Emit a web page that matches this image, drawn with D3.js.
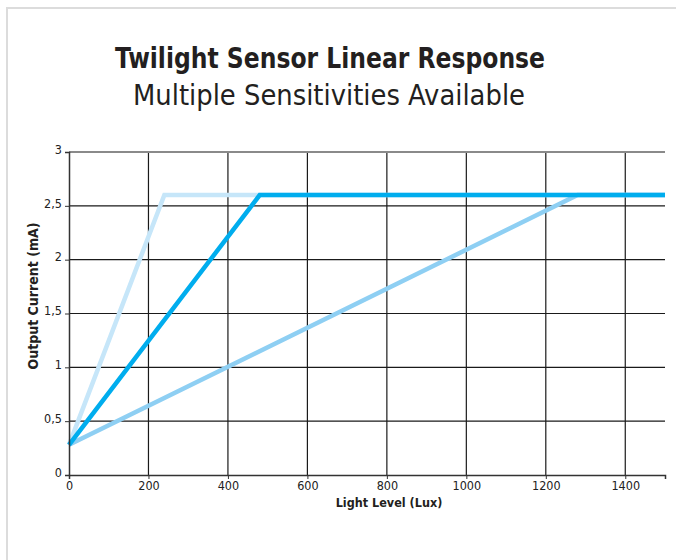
<!DOCTYPE html>
<html>
<head>
<meta charset="utf-8">
<script src="https://cdn.jsdelivr.net/npm/d3@7"></script>
<style>
	body { margin: 0; background: #fff; }
	svg { display: block; }
	text { font-family: "DejaVu Sans Condensed", "DejaVu Sans", sans-serif; font-stretch: condensed; }
	.tick text { font-size: 12.5px; fill: #222; }
</style>
</head>
<body>
<div id="chart"></div>
<script>
// x = light level (lux), y = output current (mA)
const xTicks = [0, 200, 400, 600, 800, 1000, 1200, 1400];
const yTicks = [0, 0.5, 1, 1.5, 2, 2.5, 3];

const lowLux = [0, 240, 1500];
const lowMa = [0.28, 2.6, 2.6];

const highLux = [0, 1280, 1500];
const highMa = [0.28, 2.6, 2.6];

const midLux = [0, 480, 1500];
const midMa = [0.28, 2.6, 2.6];

const series = [
	{ lux: lowLux, ma: lowMa, color: "#c6e6f9" },
	{ lux: highLux, ma: highMa, color: "#8ecff3" },
	{ lux: midLux, ma: midMa, color: "#00adee" }
];

const width = 676, height = 560;
const margin = { top: 152, right: 11, bottom: 85, left: 69 };

const svg = d3.select('#chart').append('svg')
	.attr('width', width)
	.attr('height', height);

// light frame
svg.append('path')
	.attr('d', `M7,${height} V8 H${width}`)
	.attr('fill', 'none')
	.attr('stroke', '#dcdcdc')
	.attr('stroke-width', 2);

// titles are squeezed to the width of the condensed face in the original
svg.append('text')
	.attr('x', 330)
	.attr('y', 68)
	.attr('text-anchor', 'middle')
	.attr('textLength', 430)
	.attr('lengthAdjust', 'spacingAndGlyphs')
	.style('font-weight', 'bold')
	.style('font-size', '29px')
	.attr('fill', '#231f20')
	.text("Twilight Sensor Linear Response");

svg.append('text')
	.attr('x', 329)
	.attr('y', 105)
	.attr('text-anchor', 'middle')
	.attr('textLength', 392)
	.attr('lengthAdjust', 'spacingAndGlyphs')
	.style('font-size', '29px')
	.attr('fill', '#231f20')
	.text("Multiple Sensitivities Available");

const x = d3.scaleLinear()
	.domain([0, 1500])
	.range([margin.left, width - margin.right]);

const y = d3.scaleLinear()
	.domain([0, 3])
	.range([height - margin.bottom, margin.top]);

const fmt = d => String(d).replace('.', ',');

// grid
const g = svg.append('g');

g.selectAll('line.vgrid')
	.data(xTicks.slice(1))
	.enter().append('line')
	.attr('class', 'vgrid')
	.attr('x1', d => x(d)).attr('x2', d => x(d))
	.attr('y1', y(3)).attr('y2', y(0))
	.attr('stroke', '#1a1a1a')
	.attr('stroke-width', 1.2);

g.selectAll('line.hgrid')
	.data(yTicks.slice(1))
	.enter().append('line')
	.attr('class', 'hgrid')
	.attr('x1', x(0)).attr('x2', x(1500))
	.attr('y1', d => y(d)).attr('y2', d => y(d))
	.attr('stroke', d => d === 3 ? '#8a8a8a' : '#1a1a1a')
	.attr('stroke-width', d => d === 3 ? 1.8 : 1.2);

// series
const line = d3.line()
	.x(d => x(d[0]))
	.y(d => y(d[1]));

svg.append('g').selectAll('path')
	.data(series)
	.enter().append('path')
	.attr('d', s => line(d3.zip(s.lux, s.ma)))
	.attr('fill', 'none')
	.attr('stroke', s => s.color)
	.attr('stroke-width', 4.5)
	.attr('stroke-linejoin', 'miter');

// axes
const xAxis = svg.append('g')
	.attr('transform', `translate(0,${y(0)})`)
	.call(d3.axisBottom(x).tickValues(xTicks).tickSize(4).tickPadding(2).tickFormat(d3.format('d')));

const yAxis = svg.append('g')
	.attr('transform', `translate(${x(0)},0)`)
	.call(d3.axisLeft(y).tickValues(yTicks).tickSize(4).tickPadding(3).tickFormat(fmt));

[xAxis, yAxis].forEach(a => {
	a.attr('font-family', null);
	a.select('.domain').attr('stroke', '#333').attr('stroke-width', 1.5);
	a.selectAll('.tick line').attr('stroke', '#333');
});

yAxis.selectAll('.tick text').attr('dy', '0.1em');

svg.append('text')
	.attr('x', 389)
	.attr('y', 507)
	.attr('text-anchor', 'middle')
	.style('font-weight', 'bold')
	.style('font-size', '12.5px')
	.attr('fill', '#231f20')
	.text("Light Level (Lux)");

svg.append('text')
	.attr('transform', `translate(38,296) rotate(-90)`)
	.attr('text-anchor', 'middle')
	.style('font-weight', 'bold')
	.style('font-size', '14px')
	.attr('fill', '#231f20')
	.text("Output Current (mA)");
</script>
</body>
</html>
